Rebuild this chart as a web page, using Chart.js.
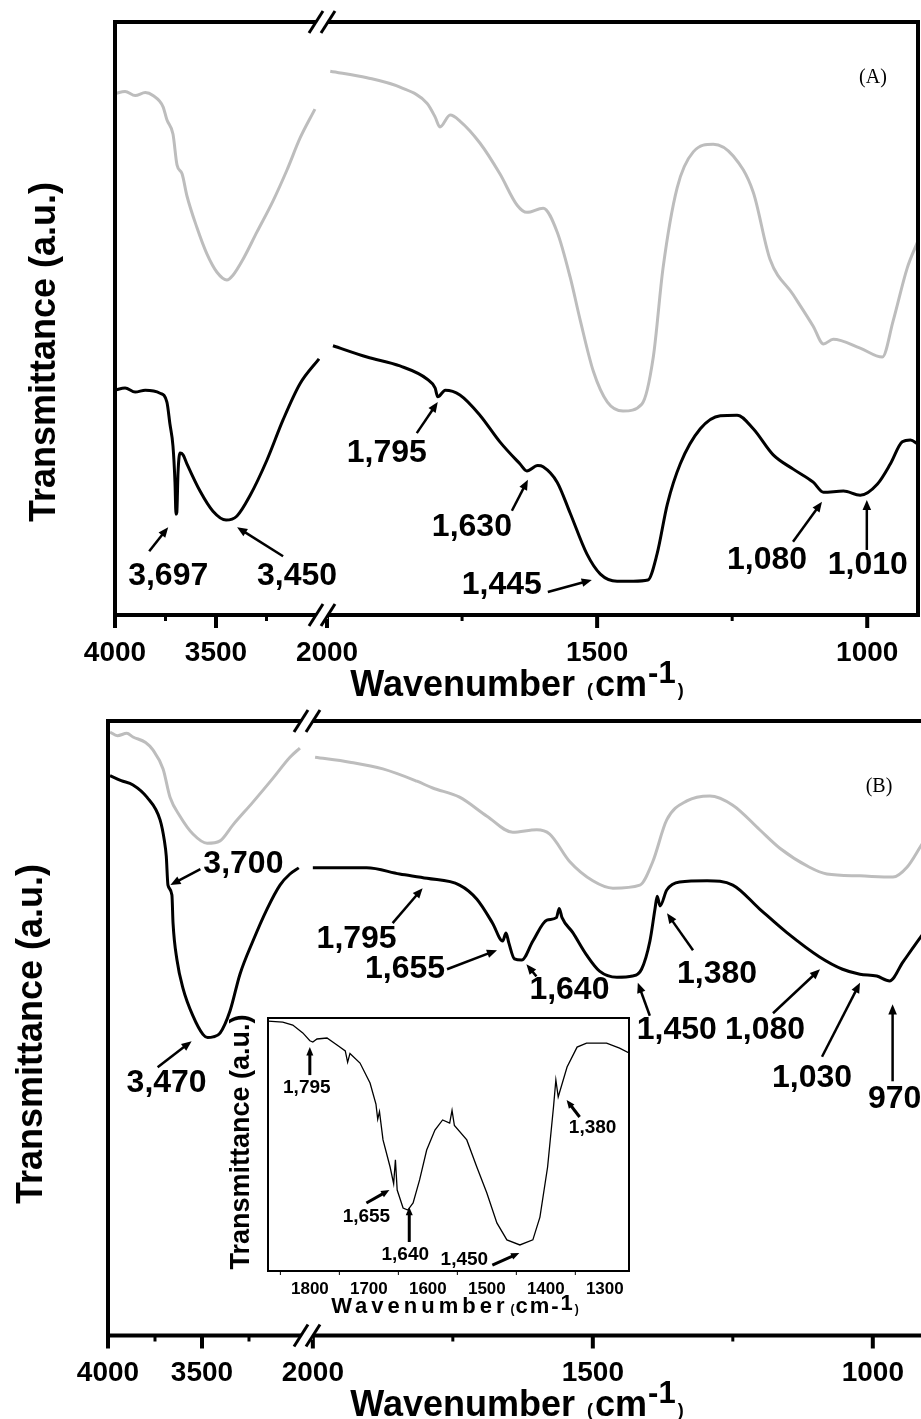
<!DOCTYPE html>
<html>
<head>
<meta charset="utf-8">
<script src="https://cdn.jsdelivr.net/npm/chart.js@4.4.0/dist/chart.umd.min.js"></script>
<style>
  html, body { margin: 0; padding: 0; background: #fff; overflow: hidden; }
  body { width: 921px; height: 1419px; position: relative; }
  canvas { position: absolute; display: block; }
  #chartA { left: 0; top: 0; }
  #chartB { left: 0; top: 700px; }
  #chartInset { left: 220px; top: 1000px; }
</style>
</head>
<body>
<canvas id="chartA" width="921" height="700"></canvas>
<canvas id="chartB" width="940" height="719"></canvas>
<canvas id="chartInset" width="420" height="320"></canvas>
<script>
// ---- spectra: wavenumber (cm-1) and transmittance (a.u.) ----
const aGrayWn = [4000, 3950, 3900, 3850, 3812, 3762, 3743, 3713, 3693, 3668, 3644, 3594, 3545, 3495, 3446, 3416, 3366, 3297, 3218, 3149, 3084, 3010,
  1994, 1926, 1865, 1815, 1800, 1791, 1772, 1754, 1717, 1680, 1648, 1630, 1600, 1574, 1550, 1531, 1507, 1481, 1452, 1417, 1396, 1378, 1352, 1322, 1285, 1248, 1211, 1180, 1137, 1100, 1081, 1063, 1013, 972, 952, 926, 906];
const aGrayT = [87.9, 88.3, 87.6, 88.1, 87.6, 85.7, 83.5, 81.1, 75.9, 74.4, 70.7, 65.3, 60.9, 57.8, 56.5, 57.3, 60.0, 64.6, 69.8, 75.0, 80.4, 85.3,
  91.7, 90.6, 89.0, 86.3, 84.0, 82.3, 84.3, 83.3, 79.6, 74.4, 69.1, 67.9, 68.6, 64.6, 57.0, 49.6, 41.1, 35.9, 34.4, 35.6, 43.5, 58.5, 72.0, 78.1, 79.4, 77.4, 71.3, 60.0, 54.0, 48.7, 45.7, 46.5, 45.0, 43.5, 49.6, 58.5, 63.1];

const aBlackWn = [4000, 3950, 3900, 3850, 3777, 3743, 3728, 3713, 3703, 3698, 3694, 3688, 3678, 3663, 3644, 3579, 3515, 3450, 3396, 3332, 3248, 3168, 3084, 2990,
  1989, 1926, 1865, 1815, 1800, 1795, 1781, 1754, 1717, 1680, 1643, 1630, 1610, 1600, 1574, 1550, 1519, 1494, 1463, 1433, 1406, 1389, 1370, 1346, 1309, 1272, 1241, 1211, 1174, 1137, 1100, 1081, 1044, 1013, 981, 957, 935, 920, 906];
const aBlackT = [37.9, 38.3, 37.6, 37.9, 37.4, 35.9, 32.2, 28.5, 22.4, 17.0, 17.3, 24.0, 27.3, 27.0, 25.5, 20.9, 17.5, 16.0, 16.7, 20.1, 26.1, 32.9, 39.0, 43.2,
  45.4, 43.5, 42.0, 39.8, 38.3, 36.8, 37.9, 37.1, 33.7, 29.2, 25.5, 24.3, 25.2, 25.0, 22.4, 17.2, 10.3, 6.9, 5.7, 5.7, 5.9, 10.3, 18.7, 25.5, 31.4, 33.6, 33.7, 31.4, 27.0, 24.6, 22.4, 20.7, 20.9, 20.2, 22.1, 25.5, 29.2, 29.5, 28.8];

const bGrayWn = [3989, 3950, 3900, 3867, 3800, 3761, 3707, 3670, 3617, 3548, 3473, 3404, 3335, 3229, 3122, 3032, 2979,
  1996, 1934, 1875, 1814, 1786, 1738, 1689, 1643, 1600, 1577, 1541, 1500, 1464, 1416, 1393, 1368, 1332, 1291, 1250, 1202, 1166, 1113, 1082, 1023, 964, 939, 914, 905];
const bGrayT = [98.2, 97.6, 98.0, 97.4, 96.5, 95.3, 92.2, 87.6, 84.5, 81.6, 80.1, 80.5, 83.1, 86.8, 90.7, 94.1, 95.6,
  94.1, 93.3, 92.2, 90.2, 89.1, 87.6, 84.5, 81.9, 82.3, 81.6, 77.1, 74.0, 72.8, 73.3, 77.1, 83.9, 87.0, 87.8, 86.3, 82.3, 79.3, 76.2, 75.1, 74.8, 74.6, 76.2, 79.7, 81.0];

const bBlackWn = [3989, 3930, 3867, 3793, 3723, 3700, 3690, 3681, 3660, 3654, 3633, 3601, 3548, 3495, 3470, 3441, 3404, 3351, 3298, 3229, 3154, 3085, 3032, 2985,
  2000, 1904, 1845, 1796, 1738, 1707, 1679, 1661, 1655, 1650, 1640, 1627, 1607, 1582, 1565, 1560, 1555, 1536, 1511, 1488, 1457, 1429, 1413, 1398, 1389, 1385, 1380, 1368, 1345, 1296, 1250, 1202, 1154, 1095, 1054, 1023, 993, 970, 946, 914, 905];
const bBlackT = [91.1, 90.3, 89.6, 87.6, 83.9, 80.5, 78.0, 73.3, 71.7, 67.1, 61.1, 56.5, 52.0, 49.0, 48.5, 48.6, 49.2, 52.8, 58.8, 64.2, 69.4, 73.3, 75.1, 76.1,
  76.1, 76.1, 75.1, 74.4, 73.3, 71.0, 67.1, 64.2, 65.5, 63.9, 61.3, 61.1, 64.2, 67.6, 68.0, 69.5, 68.0, 65.6, 61.9, 59.3, 58.3, 58.5, 59.6, 64.2, 69.4, 71.5, 69.9, 72.5, 73.8, 74.0, 73.3, 69.4, 65.6, 61.6, 59.6, 58.8, 58.5, 57.7, 60.8, 64.9, 66.0];

const insetWn = [1871, 1846, 1829, 1812, 1800, 1795, 1788, 1771, 1754, 1740, 1736, 1732, 1715, 1698, 1688, 1685, 1682, 1676, 1664, 1658, 1655, 1652, 1642, 1634, 1625, 1614, 1602, 1588, 1575, 1563, 1559, 1555, 1534, 1517, 1500, 1483, 1466, 1444, 1422, 1410, 1397, 1387, 1383, 1379, 1364, 1347, 1331, 1297, 1275, 1259];
const insetT = [98.8, 98.4, 97.2, 94.1, 91.0, 90.5, 91.7, 92.1, 89.3, 87.0, 82.5, 86.0, 82.2, 74.3, 66.0, 60.0, 63.0, 51.8, 41.1, 34.5, 44.0, 32.0, 24.9, 24.1, 26.9, 36.0, 47.8, 55.7, 59.7, 58.5, 63.5, 57.5, 51.8, 41.1, 30.8, 19.0, 12.3, 10.3, 12.3, 21.3, 41.1, 64.8, 75.5, 68.8, 80.6, 88.5, 90.1, 90.1, 88.1, 86.2];

// labelled band positions (cm-1)
const aPeaks = [3697, 3450, 1795, 1630, 1445, 1080, 1010];
const bPeaks = [3700, 3470, 1795, 1655, 1640, 1450, 1380, 1080, 1030, 970];
const insetPeaks = [1795, 1655, 1640, 1450, 1380];

// axis ticks
const highTicks = [4000, 3750, 3500, 3250];
const lowTicks = [2000, 1750, 1500, 1250, 1000];
const insetTicks = [1850, 1800, 1750, 1700, 1650, 1600, 1550, 1500, 1450, 1400, 1350, 1300];

const FONT = "'Liberation Sans', Arial, Helvetica, sans-serif";
Chart.defaults.font.family = FONT;
Chart.defaults.color = '#000';

// callout layout: tip level on the y scale, tip / tail / text offsets in px
const aCallouts = [
  { v: 14.8, dx: -8, tail: [-19, 24], text: [0, 49] },
  { v: 14.8, dx: 11, tail: [46, 29], text: [60, 49] },
  { v: 35.9, dx: 0, tail: [-21, 31], text: [-51, 51] },
  { v: 22.8, dx: 1, tail: [-16, 31], text: [-56, 47] },
  { v: 5.9, dx: -35, tail: [-44, 12], text: [-90, 5] },
  { v: 19.1, dx: -2, tail: [-29, 40], text: [-55, 58] },
  { v: 19.4, dx: 5, tail: [0, 50], text: [1, 65] }
];
const bCallouts = [
  { v: 73.3, dx: 6, tail: [30, -16], text: [73, -21] },
  { v: 47.9, dx: -16, tail: [-34, 26], text: [-25, 42] },
  { v: 72.8, dx: -5, tail: [-30, 35], text: [-66, 51] },
  { v: 62.7, dx: -9, tail: [-50, 19], text: [-92, 19] },
  { v: 60.4, dx: 12, tail: [10, 12], text: [43, 26] },
  { v: 57.4, dx: 17, tail: [12, 33], text: [39, 47] },
  { v: 68.7, dx: 7, tail: [26, 37], text: [50, 61] },
  { v: 59.6, dx: -8, tail: [-47, 44], text: [-55, 61] },
  { v: 57.4, dx: 4, tail: [-38, 74], text: [-48, 95] },
  { v: 53.9, dx: 3, tail: [0, 77], text: [2, 95] }
];
const insetCallouts = [
  { v: 88.5, dx: -3, tail: [0, 28], text: [-3, 41] },
  { v: 32.0, dx: -6, tail: [-23, 13], text: [-23, 27] },
  { v: 25.3, dx: 5, tail: [0, 35], text: [-4, 48] },
  { v: 7.1, dx: 3, tail: [-27, 12], text: [-55, 7] },
  { v: 67.6, dx: 9, tail: [13, 17], text: [26, 28] }
];

function drawArrow(ctx, x1, y1, x2, y2, lw, head) {
  const ang = Math.atan2(y2 - y1, x2 - x1);
  ctx.lineWidth = lw;
  ctx.beginPath();
  ctx.moveTo(x1, y1);
  ctx.lineTo(x2 - Math.cos(ang) * head * 0.7, y2 - Math.sin(ang) * head * 0.7);
  ctx.stroke();
  ctx.beginPath();
  ctx.moveTo(x2, y2);
  ctx.lineTo(x2 - head * Math.cos(ang - 0.4), y2 - head * Math.sin(ang - 0.4));
  ctx.lineTo(x2 - head * Math.cos(ang + 0.4), y2 - head * Math.sin(ang + 0.4));
  ctx.closePath();
  ctx.fill();
}

// draws a row of differently styled text pieces centred on cx
function drawRuns(ctx, runs, cx, baseline) {
  let total = 0;
  runs.forEach(r => {
    ctx.font = r.font;
    ctx.letterSpacing = (r.spacing || 0) + 'px';
    r.w = ctx.measureText(r.t).width;
    total += r.w + (r.after || 0);
  });
  let x = cx - total / 2;
  ctx.textAlign = 'left';
  ctx.textBaseline = 'alphabetic';
  runs.forEach(r => {
    ctx.font = r.font;
    ctx.letterSpacing = (r.spacing || 0) + 'px';
    ctx.fillText(r.t, x, baseline + (r.dy || 0));
    x += r.w + (r.after || 0);
  });
  ctx.letterSpacing = '0px';
}

const panelFrame = {
  id: 'panelFrame',
  afterDraw(chart, args, o) {
    const { ctx, chartArea: a, scales } = chart;
    ctx.save();
    ctx.strokeStyle = '#000';
    ctx.fillStyle = '#000';
    ctx.lineCap = 'butt';

    // plot box
    ctx.lineWidth = o.frameWidth;
    ctx.strokeRect(a.left, a.top, a.right - a.left, a.bottom - a.top);

    // tick marks under the axis
    o.xScales.forEach(id => {
      const s = scales[id];
      s.ticks.forEach(t => {
        const px = s.getPixelForValue(t.value);
        const major = t.value % o.majorStep === 0;
        const len = major ? o.majorLen : o.minorLen;
        if (!len) return;
        ctx.lineWidth = major ? o.frameWidth : o.frameWidth - 1;
        ctx.beginPath();
        ctx.moveTo(px, a.bottom);
        ctx.lineTo(px, a.bottom + len);
        ctx.stroke();
      });
    });

    // axis break marks
    if (o.breakAt) {
      const bx = scales[o.breakAt].right + 2;
      [a.top, a.bottom].forEach(y => {
        ctx.fillStyle = '#fff';
        ctx.fillRect(bx - 6, y - 4, 12, 8);
        ctx.fillStyle = '#000';
        ctx.lineWidth = 3;
        [-6, 6].forEach(off => {
          ctx.beginPath();
          ctx.moveTo(bx + off - 7, y + 11);
          ctx.lineTo(bx + off + 7, y - 11);
          ctx.stroke();
        });
      });
    }

    // axis titles
    const yt = o.yTitle;
    ctx.save();
    ctx.translate(yt.x, yt.y);
    ctx.rotate(-Math.PI / 2);
    ctx.font = yt.font;
    ctx.textAlign = 'center';
    ctx.textBaseline = 'middle';
    ctx.fillText('Transmittance (a.u.)', 0, 0);
    ctx.restore();
    drawRuns(ctx, o.xTitle.runs, o.xTitle.cx, o.xTitle.baseline);

    // panel tag
    if (o.tag) {
      ctx.font = "20px 'Liberation Serif', 'Times New Roman', serif";
      ctx.textAlign = 'center';
      ctx.textBaseline = 'middle';
      ctx.fillText(o.tag.text, o.tag.x, o.tag.y);
    }

    // band callouts
    const ys = scales.y;
    ctx.font = o.calloutFont;
    ctx.textAlign = 'center';
    ctx.textBaseline = 'middle';
    o.peaks.forEach((wn, i) => {
      const c = o.callouts[i];
      const sid = o.scaleFor(wn);
      const tx = scales[sid].getPixelForValue(wn) + c.dx;
      const ty = ys.getPixelForValue(c.v);
      drawArrow(ctx, tx + c.tail[0], ty + c.tail[1], tx, ty, o.arrowWidth, o.arrowHead);
      ctx.fillText(wn.toLocaleString('en-US'), tx + c.text[0], ty + c.text[1]);
    });
    ctx.restore();
  }
};

function traceSets(wn, t, color, width) {
  const high = [], low = [];
  wn.forEach((w, i) => (w > 2500 ? high : low).push({ x: w, y: t[i] }));
  const base = { borderColor: color, borderWidth: width, pointRadius: 0, cubicInterpolationMode: 'monotone', fill: false };
  return [
    Object.assign({ data: high, xAxisID: 'xL', yAxisID: 'y' }, base),
    Object.assign({ data: low, xAxisID: 'xR', yAxisID: 'y' }, base)
  ];
}

// keeps the axis band a fixed height and stops end labels from shrinking the plot
function fixBand(h) {
  return s => { s.height = h; s.paddingLeft = 0; s.paddingRight = 0; };
}

function wnAxis(min, max, weight, tickValues, fontSize, pad) {
  return {
    type: 'linear',
    axis: 'x',
    position: 'bottom',
    stack: 'wn',
    stackWeight: weight,
    reverse: true,
    min: min,
    max: max,
    grid: { display: false },
    border: { display: false },
    afterBuildTicks: s => { s.ticks = tickValues.map(v => ({ value: v })); },
    afterFit: fixBand(70),
    ticks: {
      autoSkip: false,
      maxRotation: 0,
      minRotation: 0,
      padding: pad,
      font: { size: fontSize, weight: 'bold' },
      callback: v => (v % 500 === 0 ? String(v) : '')
    }
  };
}

const mainTitleRuns = [
  { t: 'Wavenumber', font: 'bold 36px ' + FONT, after: 12 },
  { t: '(', font: 'bold 18px ' + FONT, after: 2 },
  { t: 'cm', font: 'bold 36px ' + FONT, after: 1 },
  { t: '-1', font: 'bold 31px ' + FONT, dy: -13, after: 2 },
  { t: ')', font: 'bold 18px ' + FONT }
];

function makePanel(id, p) {
  return new Chart(document.getElementById(id), {
    type: 'line',
    data: {
      datasets: traceSets(p.grayWn, p.grayT, '#bdbdbd', 3)
        .concat(traceSets(p.blackWn, p.blackT, '#000', 3))
    },
    options: {
      responsive: false,
      animation: false,
      events: [],
      layout: { padding: p.padding },
      plugins: {
        legend: { display: false },
        tooltip: { enabled: false },
        panelFrame: {
          frameWidth: 4,
          majorStep: 500,
          majorLen: 13,
          minorLen: 6,
          xScales: ['xL', 'xR'],
          breakAt: 'xL',
          yTitle: { x: p.yTitle[0], y: p.yTitle[1], font: 'bold 36px ' + FONT },
          xTitle: { runs: mainTitleRuns, cx: p.xTitle[0], baseline: p.xTitle[1] },
          tag: p.tag,
          peaks: p.peaks,
          callouts: p.callouts,
          scaleFor: wn => (wn > 2500 ? 'xL' : 'xR'),
          calloutFont: 'bold 32px ' + FONT,
          arrowWidth: 2.5,
          arrowHead: 11
        }
      },
      scales: {
        xL: wnAxis(p.left[0], 4000, p.left[1], highTicks, 28, 13),
        xR: wnAxis(p.right[0], p.right[1], p.right[2], lowTicks, 28, 13),
        y: { type: 'linear', display: false, min: 0, max: 100 }
      }
    },
    plugins: [panelFrame]
  });
}

makePanel('chartA', {
  grayWn: aGrayWn, grayT: aGrayT, blackWn: aBlackWn, blackT: aBlackT,
  padding: { left: 115, top: 22, right: 3, bottom: 15 },
  left: [2985, 205], right: [906, 2013, 598],
  yTitle: [45, 352], xTitle: [517, 696],
  tag: { text: '(A)', x: 873, y: 78 },
  peaks: aPeaks, callouts: aCallouts
});

makePanel('chartB', {
  grayWn: bGrayWn, grayT: bGrayT, blackWn: bBlackWn, blackT: bBlackT,
  padding: { left: 108, top: 21, right: 14, bottom: 13.5 },
  left: [2952, 197], right: [905, 2014, 621],
  yTitle: [32, 334], xTitle: [517, 716],
  tag: { text: '(B)', x: 879, y: 87 },
  peaks: bPeaks, callouts: bCallouts
});

// inset: 1870-1260 cm-1 detail of the lower trace in (B)
new Chart(document.getElementById('chartInset'), {
  type: 'line',
  data: {
    datasets: [{
      data: insetWn.map((w, i) => ({ x: w, y: insetT[i] })),
      borderColor: '#000',
      borderWidth: 1.3,
      pointRadius: 0,
      tension: 0
    }]
  },
  options: {
    responsive: false,
    animation: false,
    events: [],
    layout: { padding: { left: 48, top: 18, right: 11, bottom: 9 } },
    plugins: {
      legend: { display: false },
      tooltip: { enabled: false },
      panelFrame: {
        frameWidth: 2,
        majorStep: 100,
        majorLen: 0,
        minorLen: 4,
        xScales: ['x'],
        breakAt: null,
        yTitle: { x: 22, y: 142, font: 'bold 27px ' + FONT },
        xTitle: {
          runs: [
            { t: 'Wavenumber', font: 'bold 22px ' + FONT, spacing: 4, after: 2 },
            { t: '(', font: 'bold 12px ' + FONT, after: 1 },
            { t: 'cm-', font: 'bold 22px ' + FONT, spacing: 2 },
            { t: '1', font: 'bold 22px ' + FONT, dy: -3, after: 2 },
            { t: ')', font: 'bold 12px ' + FONT }
          ],
          cx: 235, baseline: 313
        },
        tag: null,
        peaks: insetPeaks,
        callouts: insetCallouts,
        scaleFor: () => 'x',
        calloutFont: 'bold 19px ' + FONT,
        arrowWidth: 3,
        arrowHead: 9
      }
    },
    scales: {
      x: {
        type: 'linear',
        position: 'bottom',
        reverse: true,
        min: 1259,
        max: 1871,
        grid: { display: false },
        border: { display: false },
        afterBuildTicks: s => { s.ticks = insetTicks.map(v => ({ value: v })); },
        afterFit: fixBand(40),
        ticks: {
          autoSkip: false,
          maxRotation: 0,
          minRotation: 0,
          padding: 0,
          font: { size: 17, weight: 'bold' },
          callback: v => (v % 100 === 0 ? String(v) : '')
        }
      },
      y: { type: 'linear', display: false, min: 0, max: 100 }
    }
  },
  plugins: [panelFrame]
});
</script>
</body>
</html>
